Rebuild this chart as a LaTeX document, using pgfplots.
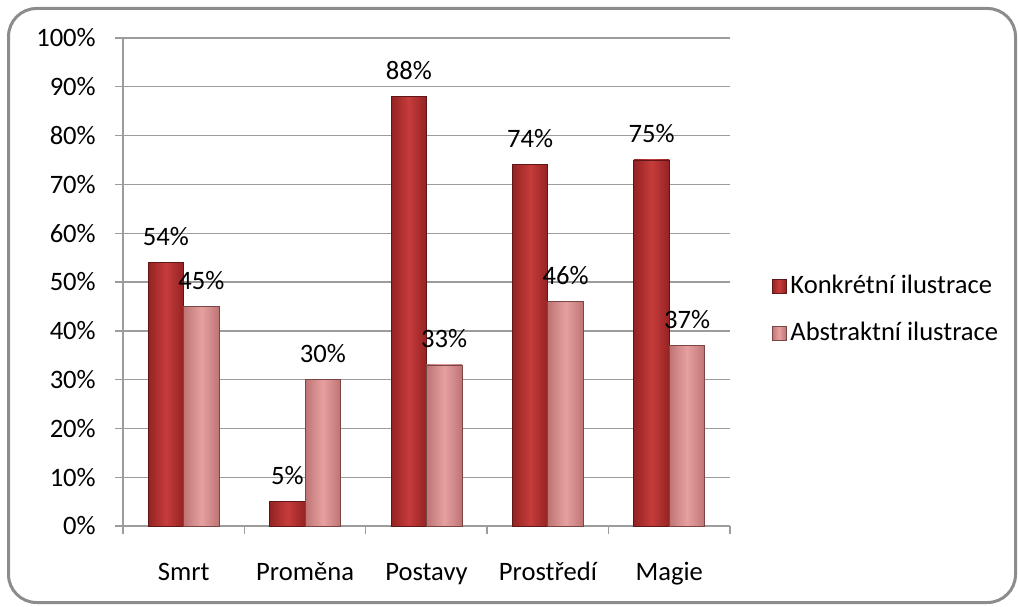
\documentclass[border=0pt]{standalone}
\usepackage{pgfplots}
\pgfplotsset{compat=1.18}
\usepackage{fontspec}
\setmainfont{Carlito}
\definecolor{konk}{HTML}{C63C3C}
\definecolor{konkdark}{HTML}{952222}
\definecolor{konkedge}{HTML}{5E1616}
\definecolor{abst}{HTML}{E6A0A0}
\definecolor{abstdark}{HTML}{BF7474}
\definecolor{abstedge}{HTML}{7A4545}
\definecolor{gridgray}{HTML}{9C9C9C}
\definecolor{framegray}{HTML}{8C8C8C}
\pgfplotsset{
  konkbar/.style={draw=konkedge, line width=0.4pt, left color=konkdark, right color=konkdark, middle color=konk, bar shift=-0.146, forget plot},
  abstbar/.style={draw=abstedge, line width=0.4pt, left color=abstdark, right color=abstdark, middle color=abst, bar shift=0.146, forget plot},
}

\begin{document}
\fontsize{13.3}{16}\selectfont
\begin{tikzpicture}[x=0.5pt,y=0.5pt]
\path[use as bounding box] (0,0) rectangle (1018,606);
\draw[framegray, line width=1.5pt, rounded corners=14pt] (8.5,3.5) rectangle (1015.5,597.5);
\begin{axis}[
  at={(61.5pt,40pt)}, anchor=south west,
  scale only axis, width=303.5pt, height=244pt,
  xmin=-0.5, xmax=4.5, ymin=0, ymax=100,
  ybar=0pt, bar width=0.292,
  xtick={0,1,2,3,4},
  xticklabels={Smrt,Proměna,Postavy,Prostředí,Magie},
  minor xtick={-0.5,0.5,1.5,2.5,3.5,4.5},
  ytick={0,10,...,100},
  yticklabel={\pgfmathprintnumber{\tick}\%},
  axis x line*=bottom, axis y line*=left,
  axis line style={draw=gridgray, line width=0.7pt, -},
  ymajorgrids, grid style={draw=gridgray, line width=0.7pt},
  tick align=outside, major tick length=4pt, minor tick length=4pt,
  tick style={draw=gridgray, line width=0.7pt},
  every major x tick/.append style={draw=none},
  typeset ticklabels with strut,
  xticklabel style={yshift=-7.5pt},
  yticklabel style={xshift=-5pt},
  tick label style={font=\fontsize{13.3}{16}\selectfont},
  /pgf/number format/assume math mode=true,
  nodes near coords={\pgfmathprintnumber{\pgfplotspointmeta}\%},
  every node near coord/.append style={anchor=center, yshift=13pt, text=black,
    font=\fontsize{13.3}{16}\selectfont},
  legend style={at={(1.058,0.443)}, anchor=west, draw=none, fill=none,
    row sep=8pt, font=\fontsize{13.3}{16}\selectfont},
  legend cell align=left,
  legend image code/.code={\draw[#1] (0pt,-3.5pt) rectangle (7pt,3.5pt);},
]
% Konkretni ilustrace
\addplot[konkbar] coordinates {(0,54)};
\addplot[konkbar] coordinates {(1,5)};
\addplot[konkbar] coordinates {(2,88)};
\addplot[konkbar] coordinates {(3,74)};
\addplot[konkbar] coordinates {(4,75)};
% Abstraktni ilustrace
\addplot[abstbar] coordinates {(0,45)};
\addplot[abstbar] coordinates {(1,30)};
\addplot[abstbar] coordinates {(2,33)};
\addplot[abstbar] coordinates {(3,46)};
\addplot[abstbar] coordinates {(4,37)};
\addlegendimage{konkbar}
\addlegendentry{Konkrétní ilustrace}
\addlegendimage{abstbar}
\addlegendentry{Abstraktní ilustrace}
\end{axis}
\end{tikzpicture}
\end{document}
